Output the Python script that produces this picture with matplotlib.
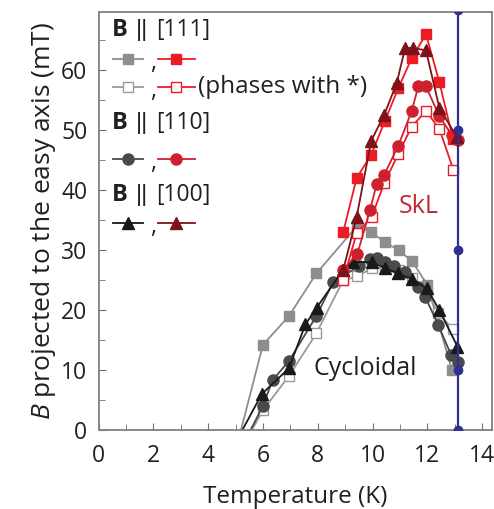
import numpy as np
import matplotlib.pyplot as plt

plt.rcParams['font.family'] = ['Open Sans', 'DejaVu Sans']
plt.rcParams['mathtext.fontset'] = 'custom'
plt.rcParams['mathtext.rm'] = 'Open Sans'
plt.rcParams['mathtext.it'] = 'Open Sans:italic'
plt.rcParams['mathtext.bf'] = 'Open Sans:bold'

# B || [111], cycloidal (filled grey squares)
sq_cyc_T = [5.2, 6.0, 6.95, 7.95, 9.45, 9.95, 10.45, 10.95, 11.45, 12.0, 12.9]
sq_cyc_B = [0, 14.2, 19.0, 26.1, 34.1, 33.0, 31.3, 30.0, 28.1, 24.2, 10.0]
# B || [111], phases with * (open grey squares)
sqo_cyc_T = [5.6, 6.0, 6.95, 7.95, 8.93, 9.45, 9.97, 10.45, 10.95, 11.45, 12.0, 12.4, 12.93]
sqo_cyc_B = [0, 3.3, 9.0, 16.1, 25.0, 25.6, 27.0, 27.0, 26.6, 25.3, 23.0, 19.5, 16.8]
# B || [110], cycloidal (dark grey circles)
ci_cyc_T = [5.55, 6.0, 6.35, 6.95, 7.95, 8.57, 9.5, 9.9, 10.15, 10.45, 10.8, 11.2, 11.65, 11.92, 12.4, 12.87, 13.12]
ci_cyc_B = [0, 4.0, 8.3, 11.5, 19.0, 24.7, 27.3, 28.5, 28.6, 28.0, 27.4, 26.4, 23.8, 22.2, 17.5, 12.5, 11.3]
# B || [100], cycloidal (black triangles)
tr_cyc_T = [5.25, 5.96, 6.95, 7.55, 7.96, 8.93, 9.3, 9.97, 10.46, 10.94, 11.43, 11.98, 12.44, 13.1]
tr_cyc_B = [0, 6.0, 10.3, 17.6, 20.4, 26.7, 28.0, 28.0, 27.0, 26.1, 25.2, 23.6, 20.0, 13.9]

# SkL phase
sq_skl_T = [8.93, 9.42, 9.95, 10.45, 10.94, 11.43, 11.95, 12.44, 12.93]
sq_skl_B = [33.0, 42.0, 45.9, 51.5, 57.0, 62.0, 66.0, 58.0, 48.6]
sqo_skl_T = [8.93, 9.42, 9.97, 10.43, 10.94, 11.43, 11.95, 12.44, 12.95]
sqo_skl_B = [25.0, 32.8, 35.5, 41.2, 46.0, 50.6, 53.2, 50.2, 43.4]
ci_skl_T = [8.93, 9.45, 9.91, 10.15, 10.43, 10.94, 11.43, 11.67, 11.95, 12.44, 12.89, 13.13]
ci_skl_B = [26.7, 29.4, 36.7, 41.0, 42.6, 47.4, 53.2, 57.3, 57.3, 52.3, 49.2, 48.3]
tr_skl_T = [8.93, 9.42, 9.95, 10.43, 10.88, 11.19, 11.47, 11.95, 12.44, 13.07]
tr_skl_B = [26.7, 35.5, 48.2, 52.6, 57.8, 63.7, 63.7, 63.3, 53.7, 48.9]

# vertical line at the transition temperature
tc = 13.12
tc_B = [0, 10, 30, 50, 70]

grey = '#8d8d8d'
dgrey = '#4a4a4a'
black = '#1a1a1a'
red = '#ed1c24'
cred = '#cf2030'
dred = '#7d1218'
blue = '#2e3192'
tcol = '#231f20'

fig = plt.figure(figsize=(4.94, 5.09), dpi=100)
ax = fig.add_axes([98.5 / 494, 1 - 430 / 509, 393.5 / 494, 418 / 509])

lw = 1.3
ax.plot(tc * np.ones(len(tc_B)), tc_B, '-o', color=blue, lw=1.6, ms=6, zorder=6)

ax.plot(sq_cyc_T, sq_cyc_B, '-s', color=grey, lw=lw, ms=7, markevery=slice(1, None))
ax.plot(sqo_cyc_T, sqo_cyc_B, '-s', color='#9a9a9a', mfc='white', lw=lw, ms=7, markevery=slice(1, None))
ax.plot(ci_cyc_T, ci_cyc_B, '-o', color=dgrey, lw=lw, ms=8, markevery=slice(1, None))
ax.plot(tr_cyc_T, tr_cyc_B, '-^', color=black, lw=lw, ms=8, markevery=slice(1, None))

ax.plot(sqo_skl_T, sqo_skl_B, '-s', color=red, mfc='white', lw=lw, ms=7)
ax.plot(ci_skl_T, ci_skl_B, '-o', color=cred, lw=lw, ms=8)
ax.plot(sq_skl_T, sq_skl_B, '-s', color=red, lw=lw, ms=7)
ax.plot(tr_skl_T, tr_skl_B, '-^', color=dred, lw=lw, ms=8)

ax.text(11.7, 37.2, 'SkL', color='#c1272d', fontsize=18, ha='center', va='center')
ax.text(9.75, 10.3, 'Cycloidal', color=tcol, fontsize=18, ha='center', va='center')


# hand-made legend
def leg_item(x0, x1, y, marker, color, filled=True, ms=7):
    ax.plot([x0, x1], [y, y], '-', color=color, lw=lw, clip_on=False)
    ax.plot([(x0 + x1) / 2], [y], marker=marker, color=color, ms=ms,
            mfc=color if filled else 'white', clip_on=False)


def leg_row(y, marker, c1, c2, filled=True, ms=7):
    leg_item(0.53, 1.62, y, marker, c1, filled, ms)
    ax.text(1.99, y - 0.6, ',', fontsize=17, color=tcol, ha='center', va='center')
    leg_item(2.17, 3.52, y, marker, c2, filled, ms)


def leg_head(y, direction):
    ax.text(0.5, y, 'B', fontsize=17, fontweight='bold', color=tcol, va='center')
    ax.text(1.6, y, '||', fontsize=17, color=tcol, va='center', ha='center',
            family='Liberation Sans')
    ax.text(2.1, y, direction, fontsize=16.5, color=tcol, va='center')


leg_head(66.7, '[111]')
leg_row(61.8, 's', grey, red)
leg_row(57.2, 's', '#9a9a9a', red, filled=False)
ax.text(3.62, 57.2, '(phases with *)', fontsize=17.5, color=tcol, va='center')

leg_head(51.2, '[110]')
leg_row(45.2, 'o', dgrey, cred, ms=8)

leg_head(39.2, '[100]')
leg_row(34.5, '^', black, dred, ms=8)

ax.set_xlim(0, 14.36)
ax.set_ylim(0, 69.7)
ax.set_xticks(np.arange(0, 15, 2))
ax.set_xticks(np.arange(0, 15, 1), minor=True)
ax.set_yticks(np.arange(0, 70, 10))
ax.set_yticks(np.arange(0, 70, 5), minor=True)
ax.tick_params(which='both', direction='in', color='#707070', labelsize=16.5, labelcolor=tcol)
ax.tick_params(which='major', length=5)
ax.tick_params(which='minor', length=4)
ax.tick_params(axis='x', pad=10)
ax.tick_params(axis='y', pad=8)
for s in ax.spines.values():
    s.set_color('#808080')
    s.set_linewidth(1.3)

ax.set_xlabel('Temperature (K)', fontsize=17.5, color=tcol, labelpad=12)
ax.set_ylabel(r'$B$ projected to the easy axis (mT)', fontsize=19, color=tcol, labelpad=2)

fig.savefig('out.png', dpi=100)
